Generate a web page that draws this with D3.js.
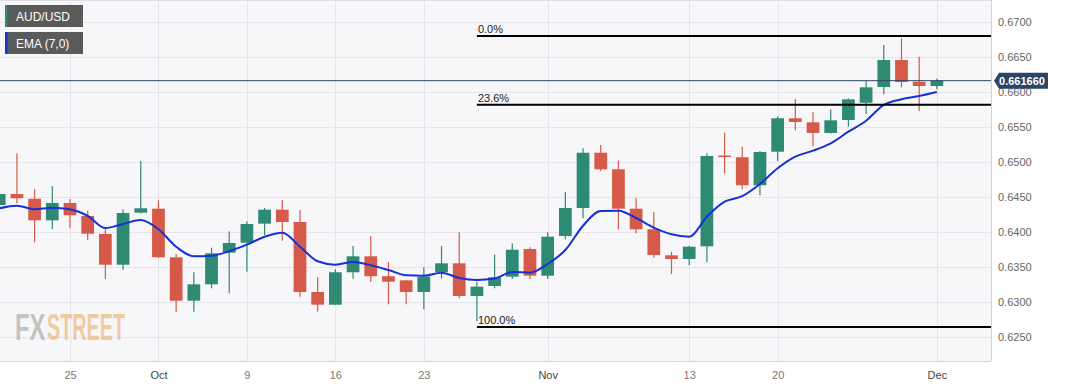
<!DOCTYPE html>
<html>
<head>
<meta charset="utf-8">
<script src="https://cdn.jsdelivr.net/npm/d3@7"></script>
<style>
body { margin: 0; background: #fff; }
svg { display: block; font-family: "Liberation Sans", Arial, sans-serif; }
</style>
</head>
<body>
<div id="chart"></div>
<script>
// daily AUD/USD candles
var dates = ["2023-09-19","2023-09-20","2023-09-21","2023-09-22",
  "2023-09-25","2023-09-26","2023-09-27","2023-09-28","2023-09-29",
  "2023-10-02","2023-10-03","2023-10-04","2023-10-05","2023-10-06",
  "2023-10-09","2023-10-10","2023-10-11","2023-10-12","2023-10-13",
  "2023-10-16","2023-10-17","2023-10-18","2023-10-19","2023-10-20",
  "2023-10-23","2023-10-24","2023-10-25","2023-10-26","2023-10-27",
  "2023-10-30","2023-10-31","2023-11-01","2023-11-02","2023-11-03",
  "2023-11-06","2023-11-07","2023-11-08","2023-11-09","2023-11-10",
  "2023-11-13","2023-11-14","2023-11-15","2023-11-16","2023-11-17",
  "2023-11-20","2023-11-21","2023-11-22","2023-11-23","2023-11-24",
  "2023-11-27","2023-11-28","2023-11-29","2023-11-30","2023-12-01"];

var openV = [0.64390,0.64547,0.64480,0.64171,
  0.64419,0.64233,0.63976,0.63537,0.64280,
  0.64337,0.63643,0.63023,0.63257,0.63709,
  0.63851,0.64123,0.64323,0.64147,0.63147,
  0.62966,0.63429,0.63657,0.63372,0.63314,
  0.63147,0.63429,0.63557,0.63090,0.63233,
  0.63366,0.63761,0.63380,0.63947,0.64347,
  0.65137,0.64900,0.64337,0.64043,0.63671,
  0.63619,0.63800,0.65097,0.65072,0.64672,
  0.65151,0.65629,0.65571,0.65419,0.65604,
  0.65851,0.66076,0.66461,0.66151,0.66090];

var highV = [0.64737,0.65129,0.64614,0.64661,
  0.64471,0.64309,0.64043,0.64329,0.65019,
  0.64457,0.63690,0.63429,0.63780,0.64014,
  0.64157,0.64347,0.64461,0.64319,0.63357,
  0.63472,0.63804,0.63947,0.63576,0.63320,
  0.63500,0.63804,0.64000,0.63294,0.63680,
  0.63843,0.63786,0.64000,0.64576,0.65200,
  0.65247,0.65023,0.64494,0.64290,0.63723,
  0.63804,0.65129,0.65423,0.65223,0.65161,
  0.65657,0.65904,0.65719,0.65757,0.65914,
  0.66161,0.66676,0.66771,0.66509,0.66194];

var lowV = [0.64376,0.64414,0.63857,0.64043,
  0.64057,0.63890,0.63333,0.63461,0.64269,
  0.63633,0.62857,0.62866,0.63200,0.63129,
  0.63437,0.63961,0.63880,0.63080,0.62866,
  0.62961,0.63337,0.63290,0.62971,0.62971,
  0.62900,0.63337,0.63057,0.62733,0.63200,
  0.63333,0.63333,0.63333,0.63900,0.64200,
  0.64876,0.64043,0.63986,0.63637,0.63404,
  0.63529,0.63571,0.64843,0.64614,0.64529,
  0.65019,0.65457,0.65229,0.65412,0.65509,
  0.65690,0.65971,0.66071,0.65733,0.66043];

var closeV = [0.64547,0.64486,0.64171,0.64419,
  0.64243,0.63980,0.63537,0.64276,0.64343,
  0.63643,0.63023,0.63257,0.63700,0.63847,
  0.64119,0.64323,0.64147,0.63147,0.62966,
  0.63429,0.63657,0.63372,0.63294,0.63147,
  0.63366,0.63557,0.63090,0.63223,0.63357,
  0.63751,0.63380,0.63937,0.64347,0.65137,
  0.64900,0.64337,0.64043,0.63676,0.63619,
  0.63794,0.65090,0.65083,0.64672,0.65147,
  0.65629,0.65576,0.65419,0.65600,0.65900,
  0.66071,0.66461,0.66147,0.66090,0.66166];

// EMA (7,0) as drawn
var emaV = [0.64343,0.64380,0.64329,0.64351,
  0.64329,0.64233,0.64061,0.64119,0.64176,
  0.64043,0.63794,0.63657,0.63666,0.63729,
  0.63823,0.63937,0.63994,0.63794,0.63586,
  0.63537,0.63576,0.63529,0.63461,0.63386,
  0.63380,0.63423,0.63347,0.63319,0.63340,
  0.63433,0.63423,0.63547,0.63747,0.64094,
  0.64304,0.64309,0.64204,0.64066,0.63971,
  0.63937,0.64223,0.64437,0.64516,0.64690,
  0.64914,0.65080,0.65166,0.65271,0.65437,
  0.65594,0.65819,0.65900,0.65947,0.66004];

var xTickDates = ["2023-09-25","2023-10-02","2023-10-09","2023-10-16","2023-10-23",
  "2023-11-01","2023-11-13","2023-11-20","2023-12-01"];
var xTickLabels = ["25","Oct","9","16","23","Nov","13","20","Dec"];
var yTicks = [0.625,0.630,0.635,0.640,0.645,0.650,0.655,0.660,0.665,0.670];

var fibStartDate = "2023-10-26";
var fibLevels = [
  {label: "0.0%", value: 0.66804},
  {label: "23.6%", value: 0.65823},
  {label: "100.0%", value: 0.62647}
];
var lastPrice = 0.66166;

var width = 1067, height = 386;
var plotW = 991, plotH = 361;
var upColor = "#2f8a74", downColor = "#d65a49";

var svg = d3.select("#chart").append("svg")
    .attr("width", width)
    .attr("height", height);

svg.append("rect")
    .attr("width", width).attr("height", height)
    .attr("fill", "#fff");

var x = d3.scaleLinear().domain([0.043, 56.06]).range([0, plotW]);
var y = d3.scaleLinear().domain([0.621614, 0.673186]).range([plotH, 0]);
var step = x(1) - x(0);
var bodyW = step * 0.72;

svg.append("clipPath").attr("id", "plotClip")
    .append("rect").attr("width", plotW).attr("height", plotH);

svg.append("rect")
    .attr("width", plotW).attr("height", plotH)
    .attr("fill", "#f7f7f9");

// grid
var grid = svg.append("g");
grid.selectAll(".hg").data(yTicks).enter().append("line")
    .attr("x1", 0).attr("x2", plotW)
    .attr("y1", function(d){ return Math.round(y(d)) + 0.5; })
    .attr("y2", function(d){ return Math.round(y(d)) + 0.5; })
    .attr("stroke", "#e4e4ea");
grid.selectAll(".vg").data(xTickDates).enter().append("line")
    .attr("y1", 0).attr("y2", plotH)
    .attr("x1", function(d){ return Math.round(x(dates.indexOf(d))) + 0.5; })
    .attr("x2", function(d){ return Math.round(x(dates.indexOf(d))) + 0.5; })
    .attr("stroke", "#e4e4ea");

// watermark, squeezed horizontally
svg.append("g").attr("transform", "translate(15,340) scale(0.64,1)")
  .append("text")
    .attr("font-size", 37).attr("font-weight", "bold")
    .attr("fill", "#9a9a9a").attr("opacity", 0.55)
    .text("FX");
svg.append("g").attr("transform", "translate(47,340) scale(0.535,1)")
  .append("text")
    .attr("font-size", 37).attr("font-weight", "bold")
    .attr("fill", "#e9a85c").attr("opacity", 0.55)
    .text("STREET");

var candles = dates.map(function(d, i){
    return {date: d, i: i, o: openV[i], h: highV[i], l: lowV[i], c: closeV[i]};
});

var plot = svg.append("g").attr("clip-path", "url(#plotClip)");

plot.selectAll(".wick").data(candles).enter().append("line")
    .attr("x1", function(d){ return x(d.i); })
    .attr("x2", function(d){ return x(d.i); })
    .attr("y1", function(d){ return y(d.h); })
    .attr("y2", function(d){ return y(d.l); })
    .attr("stroke", function(d){ return d.c >= d.o ? upColor : downColor; })
    .attr("stroke-width", 1.2);

plot.selectAll(".body").data(candles).enter().append("rect")
    .attr("x", function(d){ return x(d.i) - bodyW / 2; })
    .attr("width", bodyW)
    .attr("y", function(d){ return y(Math.max(d.o, d.c)); })
    .attr("height", function(d){ return Math.max(1.5, Math.abs(y(d.o) - y(d.c))); })
    .attr("fill", function(d){ return d.c >= d.o ? upColor : downColor; });

// EMA line
var emaLine = d3.line()
    .x(function(d, i){ return x(i); })
    .y(function(d){ return y(d); })
    .curve(d3.curveMonotoneX);
plot.append("path")
    .datum(emaV)
    .attr("d", emaLine)
    .attr("fill", "none")
    .attr("stroke", "#1631d6")
    .attr("stroke-width", 2);

// fibonacci levels
var fx0 = x(dates.indexOf(fibStartDate));
var fib = svg.append("g");
fib.selectAll("line").data(fibLevels).enter().append("line")
    .attr("x1", fx0).attr("x2", plotW)
    .attr("y1", function(d){ return y(d.value); })
    .attr("y2", function(d){ return y(d.value); })
    .attr("stroke", "#000").attr("stroke-width", 2);
fib.selectAll("text").data(fibLevels).enter().append("text")
    .attr("x", fx0 + 1)
    .attr("y", function(d){ return y(d.value) - 3; })
    .attr("font-size", 11)
    .attr("fill", "#222")
    .text(function(d){ return d.label; });

// last price line
svg.append("line")
    .attr("x1", 0).attr("x2", plotW)
    .attr("y1", y(lastPrice)).attr("y2", y(lastPrice))
    .attr("stroke", "#2d4466").attr("stroke-width", 1);

// plot border
svg.append("line").attr("x1", plotW + 0.5).attr("x2", plotW + 0.5)
    .attr("y1", 0).attr("y2", plotH).attr("stroke", "#cfd1dc");
svg.append("line").attr("x1", 0).attr("x2", plotW)
    .attr("y1", plotH + 0.5).attr("y2", plotH + 0.5).attr("stroke", "#cfd1dc");
svg.append("line").attr("x1", 0).attr("x2", plotW)
    .attr("y1", 0.5).attr("y2", 0.5).attr("stroke", "#e0e1e8");

// axes
var yAxis = d3.axisRight(y).tickValues(yTicks).tickSize(0).tickPadding(7)
    .tickFormat(d3.format(".4f"));
var yg = svg.append("g").attr("transform", "translate(" + plotW + ",0)").call(yAxis);
yg.select(".domain").remove();
yg.selectAll("text").attr("font-size", 11).attr("fill", "#666")
    .attr("font-family", "Liberation Sans, Arial, sans-serif");

var xAxis = d3.axisBottom(x)
    .tickValues(xTickDates.map(function(d){ return dates.indexOf(d); }))
    .tickSize(0).tickPadding(10)
    .tickFormat(function(d, i){ return xTickLabels[i]; });
var xg = svg.append("g").attr("transform", "translate(0," + plotH + ")").call(xAxis);
xg.select(".domain").remove();
xg.selectAll("text").attr("font-size", 11)
    .attr("font-family", "Liberation Sans, Arial, sans-serif")
    .attr("fill", function(d, i){ return isNaN(+xTickLabels[i]) ? "#444" : "#777"; });

// last price tag
var ty = y(lastPrice);
svg.append("path")
    .attr("d", "M" + (plotW + 3) + "," + ty +
        "L" + (plotW + 8) + "," + (ty - 8) +
        "L" + (plotW + 57) + "," + (ty - 8) +
        "L" + (plotW + 57) + "," + (ty + 8) +
        "L" + (plotW + 8) + "," + (ty + 8) + "Z")
    .attr("fill", "#2c4466");
svg.append("text")
    .attr("x", plotW + 31).attr("y", ty + 4)
    .attr("text-anchor", "middle")
    .attr("font-size", 11).attr("font-weight", "bold")
    .attr("fill", "#fff")
    .text(d3.format(".6f")(lastPrice));

// legend
var legendItems = [{name: "AUD/USD", color: upColor}, {name: "EMA (7,0)", color: "#1631d6"}];
var lg = svg.selectAll(".legend").data(legendItems).enter().append("g")
    .attr("transform", function(d, i){ return "translate(5," + (5 + i * 27) + ")"; });
lg.append("rect").attr("width", 78).attr("height", 22).attr("fill", "#5a5a5a");
lg.append("rect").attr("width", 2.5).attr("height", 22).attr("fill", function(d){ return d.color; });
lg.append("text").attr("x", 11).attr("y", 15.5)
    .attr("font-size", 12).attr("fill", "#fff")
    .text(function(d){ return d.name; });
</script>
</body>
</html>
